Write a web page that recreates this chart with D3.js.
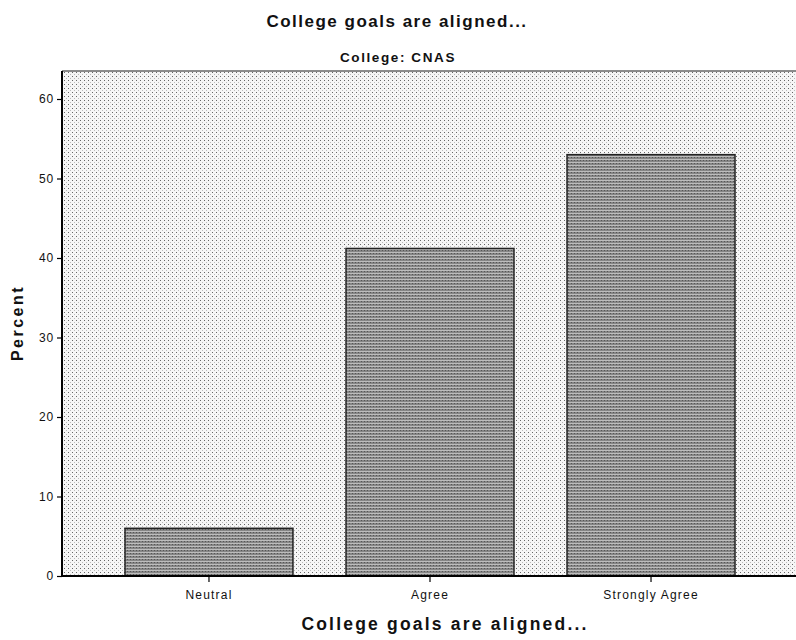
<!DOCTYPE html>
<html>
<head>
<meta charset="utf-8">
<script src="https://cdn.jsdelivr.net/npm/d3@7"></script>
<style>
  body { margin: 0; background: #fff; }
  text { font-family: Arial, "Liberation Sans", sans-serif; fill: #111; }
</style>
</head>
<body>
<svg id="chart" width="796" height="640"></svg>
<script>
/* data */
var categories = ["Neutral", "Agree", "Strongly Agree"];
var percents = [6.0, 41.2, 53.0];
var yTicks = [0, 10, 20, 30, 40, 50, 60];

var svg = d3.select("#chart");
var margin = { top: 71, left: 62, bottom: 576, right: 798 };

var defs = svg.append("defs");

// stippled plot background
var bg = defs.append("pattern")
    .attr("id", "bgdots")
    .attr("width", 4).attr("height", 4)
    .attr("patternUnits", "userSpaceOnUse");
bg.append("rect").attr("width", 4).attr("height", 4).attr("fill", "#f6f6f6");
bg.append("rect").attr("x", 0).attr("y", 0).attr("width", 1).attr("height", 1).attr("fill", "#666");
bg.append("rect").attr("x", 2).attr("y", 2).attr("width", 1).attr("height", 1).attr("fill", "#bbb");

// bar texture
var bp = defs.append("pattern")
    .attr("id", "bardots")
    .attr("width", 3).attr("height", 3)
    .attr("patternUnits", "userSpaceOnUse");
bp.append("rect").attr("width", 3).attr("height", 3).attr("fill", "#868686");
bp.append("rect").attr("x", 0).attr("y", 0).attr("width", 3).attr("height", 1).attr("fill", "#bdbdbd");
bp.append("rect").attr("x", 1).attr("y", 1).attr("width", 1).attr("height", 1).attr("fill", "#555");

var x = d3.scaleBand()
    .domain(categories)
    .range([margin.left, margin.right])
    .paddingInner(0.24)
    .paddingOuter(0.285);

var y = d3.scaleLinear()
    .domain([0, 60])
    .range([margin.bottom, 99]);

// plot area
svg.append("rect")
    .attr("x", margin.left)
    .attr("y", margin.top)
    .attr("width", margin.right - margin.left)
    .attr("height", margin.bottom - margin.top)
    .attr("fill", "url(#bgdots)");

svg.append("line")
    .attr("x1", margin.left).attr("x2", margin.right)
    .attr("y1", margin.top).attr("y2", margin.top)
    .attr("stroke", "#666").attr("stroke-width", 1.5);

// bars
svg.selectAll(".bar")
    .data(percents)
    .enter().append("rect")
    .attr("class", "bar")
    .attr("x", function (d, i) { return x(categories[i]); })
    .attr("y", function (d) { return y(d); })
    .attr("width", x.bandwidth())
    .attr("height", function (d) { return y(0) - y(d); })
    .attr("fill", "url(#bardots)")
    .attr("stroke", "#222")
    .attr("stroke-width", 1.5);

// axes
var yAxis = svg.append("g")
    .attr("transform", "translate(" + margin.left + ",0)")
    .call(d3.axisLeft(y).tickValues(yTicks).tickSize(5).tickPadding(3));
yAxis.select(".domain").attr("stroke", "#000").attr("stroke-width", 2)
    .attr("d", "M0," + margin.top + "V" + margin.bottom);
yAxis.selectAll(".tick line").attr("stroke", "#000").attr("stroke-width", 1.2);
yAxis.selectAll(".tick text").attr("font-size", 12).attr("letter-spacing", 0.8)
    .attr("font-family", "Arial, sans-serif").attr("fill", "#111");

var xAxis = svg.append("g")
    .attr("transform", "translate(0," + margin.bottom + ")")
    .call(d3.axisBottom(x).tickSize(6).tickPadding(8));
xAxis.select(".domain").attr("stroke", "#000").attr("stroke-width", 2)
    .attr("d", "M" + margin.left + ",0H" + margin.right);
xAxis.selectAll(".tick line").attr("stroke", "#000").attr("stroke-width", 1.2);
xAxis.selectAll(".tick text").attr("font-size", 12).attr("letter-spacing", 1.2)
    .attr("font-family", "Arial, sans-serif").attr("fill", "#111");

// titles
svg.append("text")
    .attr("x", 397).attr("y", 27)
    .attr("text-anchor", "middle")
    .attr("font-size", 17).attr("font-weight", "bold").attr("letter-spacing", 1.5)
    .text("College goals are aligned...");

svg.append("text")
    .attr("x", 398).attr("y", 62)
    .attr("text-anchor", "middle")
    .attr("font-size", 13.5).attr("font-weight", "bold").attr("letter-spacing", 1.6)
    .text("College: CNAS");

svg.append("text")
    .attr("x", 445).attr("y", 630)
    .attr("text-anchor", "middle")
    .attr("font-size", 17.5).attr("font-weight", "bold").attr("letter-spacing", 2.2)
    .text("College goals are aligned...");

svg.append("text")
    .attr("transform", "translate(23,323) rotate(-90)")
    .attr("text-anchor", "middle")
    .attr("font-size", 16).attr("font-weight", "bold").attr("letter-spacing", 2.5)
    .text("Percent");
</script>
</body>
</html>
